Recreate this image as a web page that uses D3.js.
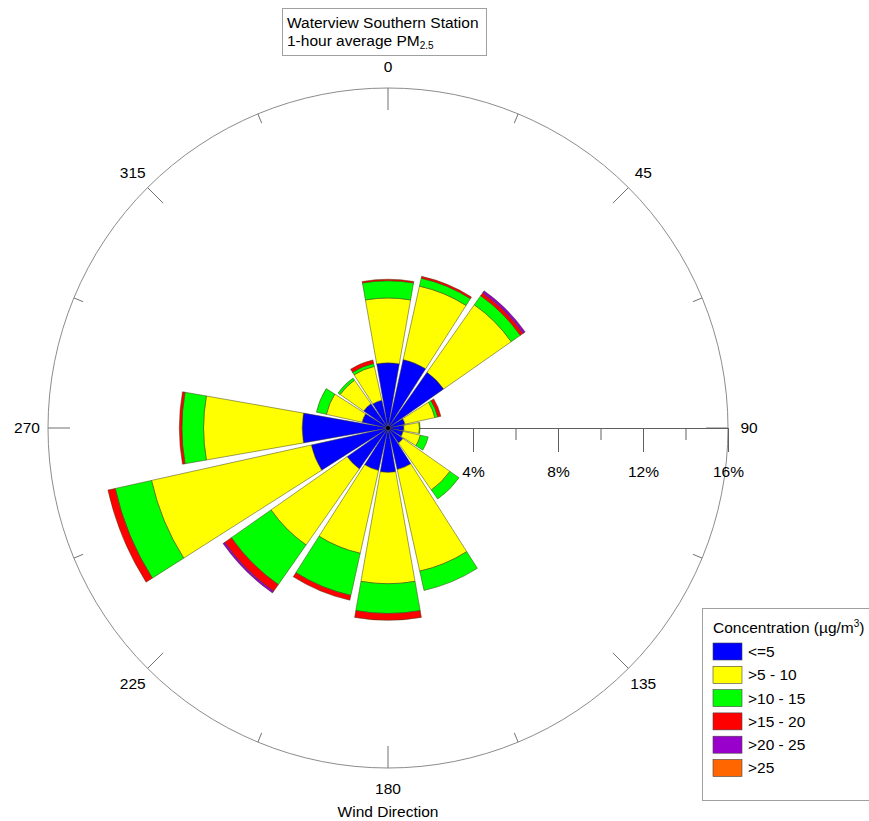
<!DOCTYPE html>
<html>
<head>
<meta charset="utf-8">
<script src="https://cdn.jsdelivr.net/npm/d3@7"></script>
<style>
  body { margin: 0; background: #fff; }
  text { font-family: "Liberation Sans", Arial, sans-serif; fill: #000; }
</style>
</head>
<body>
<script>
//////////////// Datas ////////////////////
var directions = [0, 22.5, 45, 67.5, 90, 112.5, 135, 157.5, 180, 202.5, 225, 247.5, 270, 292.5, 315, 337.5];
var binLabels = ["<=5", ">5 - 10", ">10 - 15", ">15 - 20", ">20 - 25", ">25"];
var binColors = ["#0000ff", "#ffff00", "#00ff00", "#ff0000", "#9900cc", "#ff6600"];

// frequency (%) per direction, one array per concentration bin
var pctLe5   = [3.07, 3.30, 3.20, 0.82, 0.75, 0.73, 0.86, 2.00, 2.09, 2.05, 2.35, 3.70, 4.04, 1.25, 1.40, 1.34];
var pct5to10 = [3.05, 3.54, 3.88, 1.44, 0.73, 0.83, 2.70, 4.90, 5.24, 3.99, 4.37, 7.70, 4.64, 1.72, 1.35, 1.63];
var pct10to15 = [0.81, 0.38, 0.52, 0.14, 0.03, 0.38, 0.52, 0.93, 1.40, 2.03, 2.28, 1.75, 1.02, 0.48, 0.12, 0.14];
var pct15to20 = [0.07, 0.09, 0.16, 0.15, 0, 0, 0, 0, 0.32, 0.23, 0.38, 0.35, 0.12, 0, 0, 0.17];
var pct20to25 = [0, 0, 0.12, 0, 0, 0, 0, 0, 0, 0, 0.10, 0, 0, 0, 0, 0];
var pctGt25   = [0, 0, 0, 0, 0, 0, 0, 0, 0, 0, 0, 0, 0, 0, 0, 0];

var dirTickLabels = [0, 45, 90, 135, 180, 225, 270, 315];
var pctMajorTicks = [4, 8, 12, 16];
var pctMinorTicks = [6, 10, 14];

var series = [pctLe5, pct5to10, pct10to15, pct15to20, pct20to25, pctGt25];

//////////////// Variables ////////////////////
var width = 869, height = 821;
var cx = 388, cy = 428, R = 340;
var sectorWidth = 20; // degrees

//////////////// SVG ////////////////////
var svg = d3.select("body")
  .append("svg")
  .attr("width", width)
  .attr("height", height);

var g = svg.append("g")
  .attr("transform", "translate(" + cx + "," + cy + ")");

//////////////// Scaling ///////////////
var rScale = d3.scaleLinear()
  .domain([0, 16])
  .range([0, R]);

var rad = function(deg) { return deg * Math.PI / 180; };

//////////////// Outer circle + direction ticks ///////////////
g.append("circle")
  .attr("r", R)
  .attr("fill", "none")
  .attr("stroke", "#8c8c8c")
  .attr("stroke-width", 1);

var dirTicks = d3.range(0, 360, 22.5);
g.selectAll("line.dtick")
  .data(dirTicks)
  .enter()
  .append("line")
  .attr("class", "dtick")
  .attr("x1", function(d) { return R * Math.sin(rad(d)); })
  .attr("y1", function(d) { return -R * Math.cos(rad(d)); })
  .attr("x2", function(d) { var l = d % 45 === 0 ? R - 22 : R - 10; return l * Math.sin(rad(d)); })
  .attr("y2", function(d) { var l = d % 45 === 0 ? R - 22 : R - 10; return -l * Math.cos(rad(d)); })
  .attr("stroke", "#707070")
  .attr("stroke-width", 1);

g.selectAll("text.dlabel")
  .data(dirTickLabels)
  .enter()
  .append("text")
  .attr("class", "dlabel")
  .attr("x", function(d) { return 361 * Math.sin(rad(d)); })
  .attr("y", function(d) { return -361 * Math.cos(rad(d)); })
  .attr("dy", "0.35em")
  .attr("text-anchor", "middle")
  .style("font-size", "15.5px")
  .text(function(d) { return d; });

//////////////// Radial axis (percent) ///////////////
var axisMinor = d3.axisBottom(rScale)
  .tickValues(pctMinorTicks)
  .tickSize(12)
  .tickSizeOuter(0)
  .tickFormat("");
var axisMajor = d3.axisBottom(rScale)
  .tickValues(pctMajorTicks)
  .tickSize(24)
  .tickSizeOuter(0)
  .tickPadding(14)
  .tickFormat(function(d) { return d + "%"; });

var gMinor = g.append("g").attr("class", "axis minor").call(axisMinor);
var gMajor = g.append("g").attr("class", "axis major").call(axisMajor);
gMinor.select(".domain").remove();
gMajor.select(".domain").attr("stroke", "#606060");
g.selectAll(".axis .tick line").attr("stroke", "#606060");
gMajor.selectAll(".tick text")
  .style("font-family", "'Liberation Sans', Arial, sans-serif")
  .style("font-size", "15.5px")
  .attr("fill", "#000");

//////////////// Stacked sectors ///////////////
var stacked = [];
directions.forEach(function(dir, i) {
  var y0 = 0;
  series.forEach(function(s, k) {
    var v = s[i];
    if (v > 0) {
      stacked.push({dir: dir, bin: k, y0: y0, y1: y0 + v});
    }
    y0 += v;
  });
});

var arc = d3.arc()
  .innerRadius(function(d) { return rScale(d.y0); })
  .outerRadius(function(d) { return rScale(d.y1); })
  .startAngle(function(d) { return rad(d.dir - sectorWidth / 2); })
  .endAngle(function(d) { return rad(d.dir + sectorWidth / 2); });

g.selectAll("path.sector")
  .data(stacked)
  .enter()
  .append("path")
  .attr("class", "sector")
  .attr("d", arc)
  .attr("fill", function(d) { return binColors[d.bin]; })
  .attr("stroke", "#3c3c14")
  .attr("stroke-width", 0.5);

g.append("circle")
  .attr("r", 2)
  .attr("fill", "#000");

//////////////// Title box ///////////////
svg.append("rect")
  .attr("x", 282.5).attr("y", 8.5)
  .attr("width", 204).attr("height", 47)
  .attr("fill", "#fff")
  .attr("stroke", "#a0a0a0");

svg.append("text")
  .attr("x", 287).attr("y", 28)
  .style("font-size", "15.5px")
  .text("Waterview Southern Station");

var t2 = svg.append("text")
  .attr("x", 287).attr("y", 46)
  .style("font-size", "15.5px");
t2.append("tspan").text("1-hour average PM");
t2.append("tspan").attr("dy", 3).style("font-size", "10px").text("2.5");

//////////////// Wind Direction label ///////////////
svg.append("text")
  .attr("x", cx).attr("y", 817)
  .attr("text-anchor", "middle")
  .style("font-size", "15.5px")
  .text("Wind Direction");

//////////////// Legend ///////////////
var legend = svg.append("g").attr("transform", "translate(702,608)");
legend.append("rect")
  .attr("x", 0.5).attr("y", 0.5)
  .attr("width", 200).attr("height", 192)
  .attr("fill", "#fff")
  .attr("stroke", "#a0a0a0");

var lt = legend.append("text")
  .attr("x", 11).attr("y", 25)
  .style("font-size", "15.5px");
lt.append("tspan").text("Concentration (µg/m");
lt.append("tspan").attr("dy", -6).style("font-size", "10px").text("3");
lt.append("tspan").attr("dy", 6).text(")");

var items = legend.selectAll("g.item")
  .data(binLabels)
  .enter()
  .append("g")
  .attr("class", "item")
  .attr("transform", function(d, i) { return "translate(11," + (35 + i * 23.3) + ")"; });

items.append("rect")
  .attr("width", 29).attr("height", 17)
  .attr("fill", function(d, i) { return binColors[i]; })
  .attr("stroke", "#444")
  .attr("stroke-width", 0.6);

items.append("text")
  .attr("x", 35).attr("y", 8.5)
  .attr("dy", "0.35em")
  .style("font-size", "15.5px")
  .text(function(d) { return d; });
</script>
</body>
</html>
